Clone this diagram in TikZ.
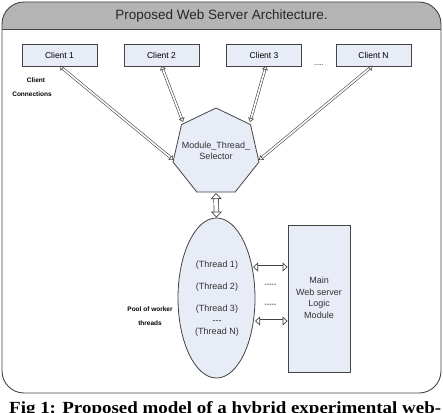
\documentclass[tikz,border=0pt]{standalone}
\usepackage{fontspec}
\setmainfont{Liberation Serif}
\setsansfont{Liberation Sans}
\usetikzlibrary{arrows.meta,shapes.geometric}
\definecolor{boxfill}{HTML}{E8ECF6}
\definecolor{hdr}{HTML}{B4B4B4}
\definecolor{edge}{HTML}{444444}
\tikzset{
  client/.style={draw=edge, fill=boxfill, line width=0.8pt, minimum width=75pt, minimum height=22pt, font=\sffamily\fontsize{8.5}{10}\selectfont, inner sep=0pt},
  lbl/.style={font=\sffamily\fontsize{9}{11}\selectfont, text=black!80, inner sep=0pt},
  small/.style={font=\sffamily\bfseries\fontsize{6.5}{8}\selectfont, inner sep=0pt},
  dbl/.style={draw=edge, double=white, double distance=1.6pt, line width=0.6pt, {Triangle[open,length=4pt,width=6pt]}-{Triangle[open,length=4pt,width=6pt]}},
  wdbl/.style={draw=edge, double=white, double distance=4pt, line width=0.7pt, {Triangle[open,length=6pt,width=11pt]}-{Triangle[open,length=6pt,width=11pt]}},
  mdbl/.style={draw=edge, double=white, double distance=3pt, line width=0.7pt, {Triangle[open,length=5pt,width=9pt]}-{Triangle[open,length=5pt,width=9pt]}},
  dashes/.style={font=\sffamily\fontsize{7}{8}\selectfont, inner sep=0pt},
}
\begin{document}
\begin{tikzpicture}[x=1pt,y=-1pt]
\useasboundingbox (0,0) rectangle (443,412);
% frame
\begin{scope}
\clip[rounded corners=22pt] (2,2) rectangle (441,393);
\fill[hdr] (0,0) rectangle (443,29);
\end{scope}
\draw[edge, line width=0.9pt, rounded corners=22pt] (2,2) rectangle (441,393);
\draw[edge, line width=0.9pt] (2,29) -- (441,29);
\node[font=\sffamily\fontsize{13.5}{16}\selectfont, text=black!85] (title) at (221.5,16) {Proposed Web Server Architecture.};
% clients
\node[client] (c1) at (59.5,55) {Client 1};
\node[client] (c2) at (161.5,55) {Client 2};
\node[client] (c3) at (264,55) {Client 3};
\node[client] (cn) at (373.5,55) {Client N};
\node[dashes] (dots1) at (319,65) {.....};
\node[small] (cl1) at (36,80) {Client};
\node[small] (cl2) at (32,94) {Connections};
% heptagon selector
\path[draw=edge, fill=boxfill, line width=0.8pt]
  (216,108) -- (250.5,124.6) -- (259,162) -- (235.2,192) -- (196.8,192) -- (173,162) -- (181.5,124.6) -- cycle;
\coordinate (h1) at (173.5,160);
\coordinate (h2) at (183,122);
\coordinate (h3) at (250,122);
\coordinate (h4) at (259,160);
\coordinate (hb) at (216,193);
\node[lbl, align=center] (sel) at (216,151) {Module\_Thread\_\\Selector};
% connections
\draw[dbl] ([yshift=0.5pt]c1.south) -- (h1);
\draw[dbl] ([yshift=0.5pt]c2.south) -- (h2);
\draw[dbl] ([xshift=2pt,yshift=0.5pt]c3.south) -- (h3);
\draw[dbl] ([xshift=-1pt,yshift=0.5pt]cn.south) -- (h4);
% ellipse
\node[draw=edge, fill=boxfill, line width=0.8pt, ellipse, minimum width=77pt, minimum height=160pt, inner sep=0pt] (pool) at (216.5,298) {};
\draw[wdbl] (hb) -- (pool.north);
\node[lbl] (t1) at (217,265) {(Thread 1)};
\node[lbl] (t2) at (217,287) {(Thread 2)};
\node[lbl] (t3) at (217,309) {(Thread 3)};
\node[lbl] (td) at (217,322) {-{}-{}-};
\node[lbl] (tn) at (217,332) {(Thread N)};
\node[small, align=center, font=\sffamily\bfseries\fontsize{6.5}{14}\selectfont] (poollbl) at (150,316) {Pool of worker\\threads};
% main module
\node[draw=edge, fill=boxfill, line width=0.8pt, minimum width=62pt, minimum height=147pt, inner sep=0pt] (main) at (319,298.5) {};
\node[lbl, align=center, font=\sffamily\fontsize{9}{11.5}\selectfont] (mtext) at (319,298) {Main\\Web server\\Logic\\Module};
\coordinate (a1l) at (253,267);
\coordinate (a2l) at (255,321);
\draw[mdbl] (a1l) -- (main.west |- a1l);
\draw[mdbl] (a2l) -- (main.west |- a2l);
\node[dashes] (d2) at (270.5,285) {-{}-{}-{}-{}-};
\node[dashes] (d3) at (270.5,305) {-{}-{}-{}-{}-};
% caption
\node[anchor=base west, inner sep=0pt, font=\rmfamily\bfseries\fontsize{17}{19}\selectfont] (cap) at (9,413) {\scalebox{1.115}[1]{Fig 1: Proposed model of a hybrid experimental web-}};
\end{tikzpicture}
\end{document}
